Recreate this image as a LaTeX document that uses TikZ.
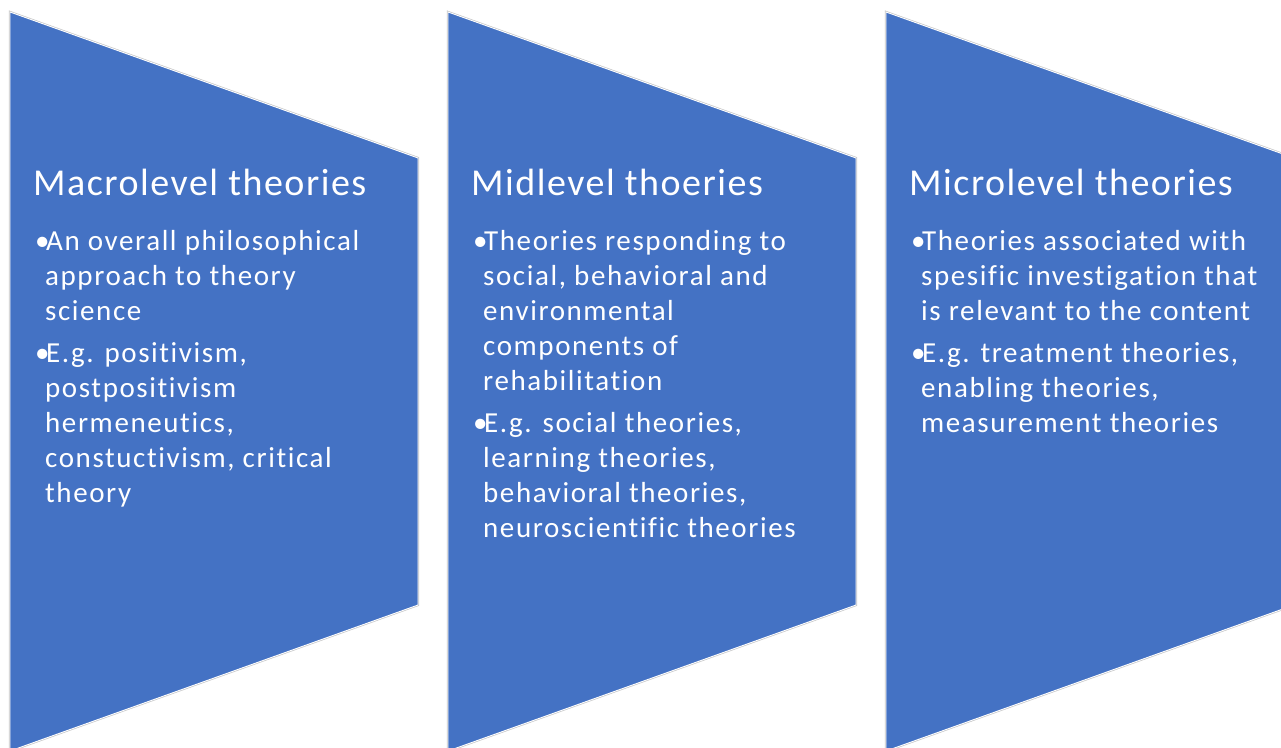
\documentclass[tikz,border=0pt]{standalone}
\usepackage{fontspec}
\setmainfont{Carlito}
\newfontfamily\smartfont[LetterSpace=5.5,Ligatures=NoCommon]{Carlito}
\newfontfamily\headfont[LetterSpace=4,Ligatures=NoCommon]{Carlito}
\definecolor{panelblue}{HTML}{4472C4}
\definecolor{panelrim}{HTML}{C4C4C4}

% bullet and hanging indent for the list lines
\newcommand{\itm}{\makebox[11pt][l]{\textbullet}}
\newcommand{\cnt}{\hspace*{10pt}}

\begin{document}
\begin{tikzpicture}[x=1pt,y=-1pt,
    rim/.style={draw=panelrim,line width=2.2pt,line join=miter},
    face/.style={fill=panelblue,draw=white,line width=0.9pt,line join=miter},
    head/.style={anchor=base west,inner sep=0pt,text=white,
                 font=\headfont\fontsize{38}{46}\selectfont},
    body/.style={anchor=base west,inner sep=0pt,text=white,align=left,
                 font=\smartfont\fontsize{29}{35}\selectfont}]

        \useasboundingbox (0,0) rectangle (1281,747);
        \clip (0,0) rectangle (1281,747);

        % the three chevron panels
        \path[rim]  (10,12) -- (418,158) -- (418,605) -- (10,751) -- cycle;
        \path[face] (10,12) -- (418,158) -- (418,605) -- (10,751) -- cycle;
        \path[rim]  (448,12) -- (856,158) -- (856,605) -- (448,751) -- cycle;
        \path[face] (448,12) -- (856,158) -- (856,605) -- (448,751) -- cycle;
        \path[rim]  (886,12) -- (1294,158) -- (1294,605) -- (886,751) -- cycle;
        \path[face] (886,12) -- (1294,158) -- (1294,605) -- (886,751) -- cycle;

        % headings
        \node[head] (H01) at (33,195)  {Macrolevel theories};
        \node[head] (H02) at (471,195) {Midlevel thoeries};
        \node[head] (H03) at (909,195) {Microlevel theories};

        % bullet lists (placed by the baseline of their last line)
        \node[body] (B01) at (35,502) {\itm An overall philosophical\\
                                       \cnt approach to theory\\
                                       \cnt science\\[7pt]
                                       \itm E.g. positivism,\\
                                       \cnt postpositivism\\
                                       \cnt hermeneutics,\\
                                       \cnt constuctivism, critical\\
                                       \cnt theory};
        \node[body] (B02) at (473,537) {\itm Theories responding to\\
                                        \cnt social, behavioral and\\
                                        \cnt environmental\\
                                        \cnt components of\\
                                        \cnt rehabilitation\\[7pt]
                                        \itm E.g. social theories,\\
                                        \cnt learning theories,\\
                                        \cnt behavioral theories,\\
                                        \cnt neuroscientific theories};
        \node[body] (B03) at (911,432) {\itm Theories associated with\\
                                        \cnt spesific investigation that\\
                                        \cnt is relevant to the content\\[7pt]
                                        \itm E.g. treatment theories,\\
                                        \cnt enabling theories,\\
                                        \cnt measurement theories};
\end{tikzpicture}
\end{document}
